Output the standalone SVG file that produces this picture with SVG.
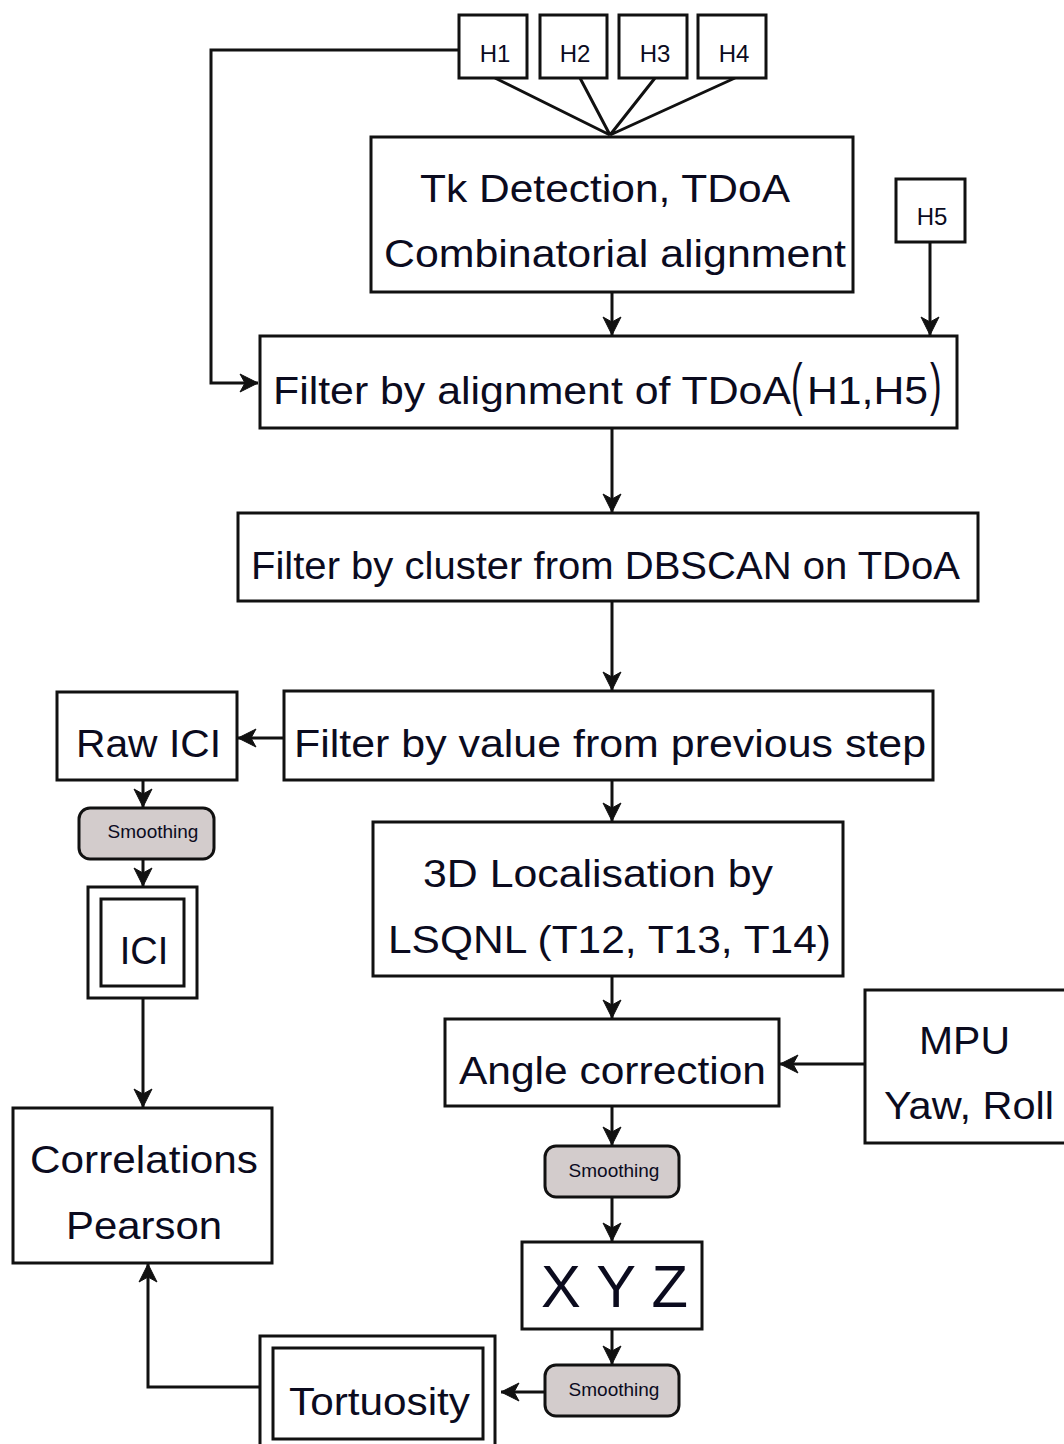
<svg xmlns="http://www.w3.org/2000/svg" width="1064" height="1444" viewBox="0 0 1064 1444">
<style>
.b{fill:#fff;stroke:#111;stroke-width:3}
.s{fill:#d3cccc;stroke:#111;stroke-width:3}
.c{fill:none;stroke:#111;stroke-width:3}
text{font-family:"Liberation Sans",Arial,sans-serif;fill:#0b0b1e}
.m{font-size:38px}
.h{font-size:24px;text-anchor:middle}
.sm{font-size:19px;text-anchor:middle}
</style>
<defs>
<marker id="a" markerUnits="userSpaceOnUse" markerWidth="22" markerHeight="22" refX="19" refY="11" orient="auto">
<path d="M1,2 L19,11 L1,20 L6,11 z" fill="#111" stroke="#111" stroke-width="1" stroke-linejoin="round"/>
</marker>
</defs>
<rect width="1064" height="1444" fill="#fff"/>
<g id="connectors">
<path class="c" d="M495,78 L610,135 M580,78 L610,135 M655,78 L610,135 M735,78 L610,135"/>
<path class="c" d="M459,50 H211 V383 H258" marker-end="url(#a)"/>
<path class="c" d="M612,292 V335" marker-end="url(#a)"/>
<path class="c" d="M930,242 V335" marker-end="url(#a)"/>
<path class="c" d="M612,428 V512" marker-end="url(#a)"/>
<path class="c" d="M612,601 V690" marker-end="url(#a)"/>
<path class="c" d="M284,738 H238" marker-end="url(#a)"/>
<path class="c" d="M143,780 V807" marker-end="url(#a)"/>
<path class="c" d="M143,859 V886" marker-end="url(#a)"/>
<path class="c" d="M143,998 V1107" marker-end="url(#a)"/>
<path class="c" d="M612,780 V821" marker-end="url(#a)"/>
<path class="c" d="M612,976 V1018" marker-end="url(#a)"/>
<path class="c" d="M865,1064 H780" marker-end="url(#a)"/>
<path class="c" d="M612,1106 V1145" marker-end="url(#a)"/>
<path class="c" d="M612,1197 V1241" marker-end="url(#a)"/>
<path class="c" d="M612,1329 V1364" marker-end="url(#a)"/>
<path class="c" d="M545,1392 H501" marker-end="url(#a)"/>
<path class="c" d="M260,1387 H148 V1264" marker-end="url(#a)"/>
</g>
<g id="h1"><rect class="b" x="459" y="15" width="68" height="63"/><text class="h" x="495" y="62">H1</text></g>
<g id="h2"><rect class="b" x="540" y="15" width="67" height="63"/><text class="h" x="575" y="62">H2</text></g>
<g id="h3"><rect class="b" x="619" y="15" width="68" height="63"/><text class="h" x="655" y="62">H3</text></g>
<g id="h4"><rect class="b" x="698" y="15" width="68" height="63"/><text class="h" x="734" y="62">H4</text></g>
<g id="h5"><rect class="b" x="896" y="179" width="69" height="63"/><text class="h" x="932" y="225">H5</text></g>
<g id="tk"><rect class="b" x="371" y="137" width="482" height="155"/>
<text class="m" x="420" y="202" textLength="370" lengthAdjust="spacingAndGlyphs">Tk Detection, TDoA</text>
<text class="m" x="384" y="267" textLength="462" lengthAdjust="spacingAndGlyphs">Combinatorial alignment</text></g>
<g id="falign"><rect class="b" x="260" y="336" width="697" height="92"/>
<text class="m" x="273" y="404" textLength="518" lengthAdjust="spacingAndGlyphs">Filter by alignment of TDoA</text>
<text x="791" y="404" font-size="58" transform="translate(791 404) scale(0.6 1) translate(-791 -404)">(</text>
<text class="m" x="807" y="404" textLength="121" lengthAdjust="spacingAndGlyphs">H1,H5</text>
<text x="930" y="404" font-size="58" transform="translate(930 404) scale(0.6 1) translate(-930 -404)">)</text></g>
<g id="fdbscan"><rect class="b" x="238" y="513" width="740" height="88"/>
<text class="m" x="251" y="579" textLength="709" lengthAdjust="spacingAndGlyphs">Filter by cluster from DBSCAN on TDoA</text></g>
<g id="fvalue"><rect class="b" x="284" y="691" width="649" height="89"/>
<text class="m" x="294" y="757" textLength="632" lengthAdjust="spacingAndGlyphs">Filter by value from previous step</text></g>
<g id="rawici"><rect class="b" x="57" y="692" width="180" height="88"/>
<text class="m" x="76" y="757" textLength="145" lengthAdjust="spacingAndGlyphs">Raw ICI</text></g>
<g id="smooth1"><rect class="s" x="79" y="808" width="135" height="51" rx="11"/>
<text class="sm" x="153" y="838">Smoothing</text></g>
<g id="ici"><rect class="b" x="88" y="887" width="109" height="111"/><rect class="b" x="101" y="899" width="83" height="87"/>
<text class="m" x="144" y="964" text-anchor="middle">ICI</text></g>
<g id="corr"><rect class="b" x="13" y="1108" width="259" height="155"/>
<text class="m" x="30" y="1173" textLength="228" lengthAdjust="spacingAndGlyphs">Correlations</text>
<text class="m" x="66" y="1239" textLength="156" lengthAdjust="spacingAndGlyphs">Pearson</text></g>
<g id="loc"><rect class="b" x="373" y="822" width="470" height="154"/>
<text class="m" x="423" y="887" textLength="350" lengthAdjust="spacingAndGlyphs">3D Localisation by</text>
<text class="m" x="388" y="953" textLength="443" lengthAdjust="spacingAndGlyphs">LSQNL (T12, T13, T14)</text></g>
<g id="angle"><rect class="b" x="445" y="1019" width="334" height="87"/>
<text class="m" x="459" y="1084" textLength="307" lengthAdjust="spacingAndGlyphs">Angle correction</text></g>
<g id="mpu"><rect class="b" x="865" y="990" width="215" height="153"/>
<text class="m" x="919" y="1054" textLength="91" lengthAdjust="spacingAndGlyphs">MPU</text>
<text class="m" x="884" y="1119" textLength="170" lengthAdjust="spacingAndGlyphs">Yaw, Roll</text></g>
<g id="smooth2"><rect class="s" x="545" y="1146" width="134" height="51" rx="11"/>
<text class="sm" x="614" y="1177">Smoothing</text></g>
<g id="xyz"><rect class="b" x="522" y="1242" width="180" height="87"/>
<text x="541" y="1307" font-size="60" textLength="147" lengthAdjust="spacingAndGlyphs">X Y Z</text></g>
<g id="smooth3"><rect class="s" x="545" y="1365" width="134" height="51" rx="11"/>
<text class="sm" x="614" y="1396">Smoothing</text></g>
<g id="tort"><rect class="b" x="260" y="1336" width="235" height="120"/><rect class="b" x="273" y="1348" width="210" height="91"/>
<text class="m" x="289" y="1415" textLength="181" lengthAdjust="spacingAndGlyphs">Tortuosity</text></g>
</svg>
